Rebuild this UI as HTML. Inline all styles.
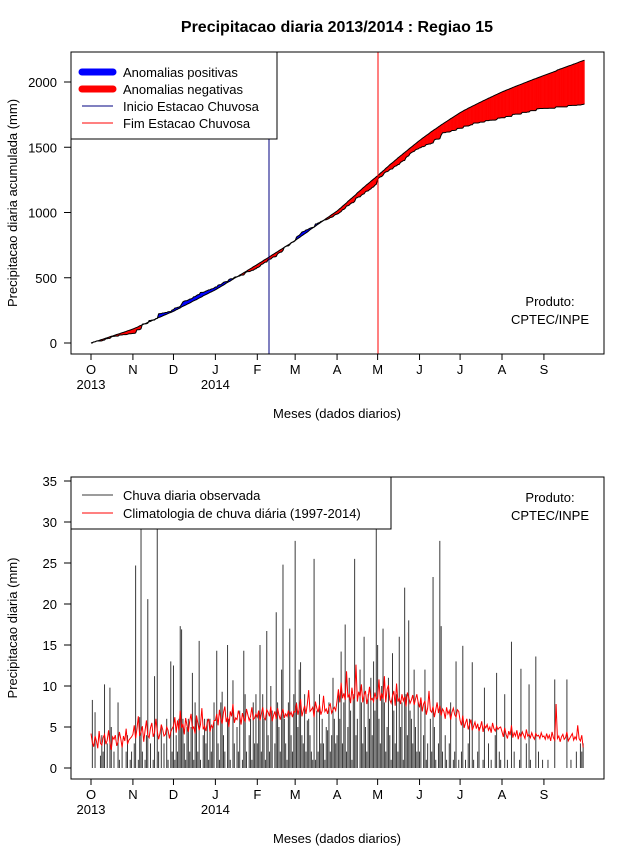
<!DOCTYPE html>
<html><head><meta charset="utf-8"><style>
body{margin:0;background:#fff}
svg{display:block;font-family:"Liberation Sans",sans-serif}
</style></head><body>
<svg id="c" width="640" height="850" viewBox="0 0 640 850"></svg>
<script>
const months=["O","N","D","J","F","M","A","M","J","J","A","S"];
const monthStartDay=[0,31,61,92,123,151,182,212,243,273,304,335];
const topTicks=[0,500,1000,1500,2000];
const botTicks=[0,5,10,15,20,25,30,35];
const obsDaily=[
0,8.3,0,6.8,0,0,0,1.5,4,2,10.2,0,3,0,9.8,5,0,2,0,0,8,1,0,3,0,0,2,4,0,1,2,
0,3,24.7,0,1,6.2,36,2,0,1,4,20.6,0,3,0,1,11.2,0,36,2,0,5,0,3,0,6,1,0,13,2,
12.5,1,4,2,6,17.3,16.9,6,3,1,5,6,2,5,11.6,1,8,6,2,15.5,1,0,4,6,3,6,1,6,2,5,8,
0,14.3,3,1,8,9.3,4,2,0,15,6,1,0,10.7,3,0,5,2,7,0,1,14.3,9,2,0,4,6,1,8,3,9,
3,7,15,2,9,6,1,16.7,4,2,10,7,0,3,19,8,5,2,12,24.8,6,3,1,8,17,4,2,9,
27.7,8,5,12,12.9,4,3,9,2,5.8,6,4,2,1,25.5,1,7,2,9,3,6,3,1,5,4.6,8,2,4,11,6,3,
4,9,6,14.2,3,8,17.5,2,5,11,7,1,9,25.5,4,6,0,12,8,3,16,5,2,9,6,11,4,13,7,36,
15,6,3,10,17,8,2,5,11,4,1,14,7,3,9,2,16,5,8,1,22,9,4,18,7,6,3,12,5,2,8,
2,8,0,4,12,1,3,0,6,2,23.3,5,1,0,3,27.7,17.3,2,0,4,1,0,3,8,0,1,2,13,0,1,
0,2,14.9,0,1,0,3,6,0,12.9,1,0,0,2,5,0,0,1,9.8,0,0,3,0,1,0,0,4,11.6,0,2,1,
0,0,9,0,1,0,0,15.4,0,2,0,0,0,1,12.1,0,0,0,3,0,10.2,1,0,0,0,13.6,0,2,0,0,1,
0,0,0,1,0,0,0,0,10.8,0,0,0,0,0,0,0,0,10.8,0,0,1,0,0,0,2,0,0,3,2,3];
const climDaily=[
4.2,3.1,2.6,3.9,3.3,2.4,4.5,3.0,2.8,3.7,4.1,2.9,3.4,4.6,3.1,2.2,3.8,3.5,4.0,2.7,3.2,4.4,3.6,2.5,3.9,3.3,4.8,2.9,3.4,3.6,3.8,
4.1,5.2,3.6,4.8,6.3,3.9,4.4,5.1,3.2,4.6,5.8,4.0,3.7,4.9,5.5,3.8,4.3,6.0,4.5,3.5,4.2,5.3,4.7,3.9,4.1,5.0,4.6,3.6,4.4,4.8,
5.1,6.2,4.3,5.8,4.6,7.0,4.9,5.4,4.1,6.1,5.2,4.4,5.7,6.6,4.8,5.0,4.2,6.4,5.5,4.6,5.3,7.3,4.7,5.1,4.5,5.6,6.0,4.4,5.2,4.9,5.8,
5.8,6.6,5.2,7.1,6.0,5.4,6.8,7.5,5.6,6.2,5.0,6.9,6.3,7.8,5.5,6.1,5.9,7.0,6.4,5.3,6.7,6.0,5.7,7.2,6.5,5.8,6.3,7.4,5.9,6.1,6.6,
6.2,7.0,5.8,6.6,7.4,6.1,5.9,7.1,6.8,6.3,7.5,5.7,6.4,6.9,6.0,7.3,6.5,5.9,6.7,7.2,6.1,6.6,6.3,7.0,6.4,6.8,6.2,6.9,
6.8,7.9,6.5,7.2,8.4,6.3,7.0,7.6,6.6,7.8,9.5,6.9,7.1,7.4,6.2,8.1,7.3,6.8,7.7,6.5,7.0,8.8,6.9,7.2,6.6,7.5,7.8,6.7,7.1,7.4,7.0,
8.2,9.6,8.0,10.4,8.5,9.1,8.3,11.8,8.6,9.0,7.9,9.8,8.4,8.8,12.6,8.1,9.3,8.7,10.2,8.0,8.9,9.4,7.8,8.6,9.9,8.3,8.5,8.1,9.2,8.4,
8.6,10.8,8.2,9.1,8.4,11.2,8.0,9.6,10.1,8.3,7.9,8.8,9.4,7.6,10.3,8.1,8.5,7.8,9.0,8.2,8.7,7.5,9.2,8.6,7.9,8.3,8.9,7.7,8.4,9.0,8.0,
7.4,8.6,6.9,7.8,8.2,6.5,7.3,9.4,7.0,6.8,7.5,6.2,7.1,8.0,6.7,7.6,6.4,7.2,6.9,6.0,7.4,6.6,7.0,5.9,6.8,7.3,6.5,6.2,7.1,6.9,
5.8,5.2,6.4,4.9,5.5,6.0,4.7,5.3,5.9,4.6,5.1,5.6,4.8,5.4,4.5,5.0,5.7,4.4,5.2,4.9,5.3,4.6,5.0,4.3,5.5,4.8,4.5,5.1,4.7,4.9,5.0,
4.4,3.8,4.9,4.1,3.6,4.5,4.0,5.2,3.7,4.3,3.9,4.6,3.5,4.2,3.8,4.4,4.0,3.6,4.7,3.9,4.1,3.7,4.3,3.8,3.5,4.2,3.9,4.0,3.6,4.3,3.8,
3.9,3.5,4.2,3.6,4.0,3.3,4.4,3.7,3.4,7.8,3.6,3.9,3.2,3.8,4.1,3.5,3.7,4.4,3.3,3.6,3.9,4.2,3.4,3.8,3.5,5.2,3.6,3.3,4.0,2.5];

const NS="http://www.w3.org/2000/svg";
const svg=document.getElementById('c');
function mk(tag,attrs,parent,txt){const e=document.createElementNS(NS,tag);for(const k in attrs)e.setAttribute(k,attrs[k]);if(txt!==undefined)e.textContent=txt;(parent||svg).appendChild(e);return e;}
const X0=91,PXD=1.352;
function xDay(d){return X0+d*PXD;}
function yTop(v){return 343-v*0.1305;}
function yBot(v){return 768-v*8.2;}

let t=mk('text',{x:337,y:32,'text-anchor':'middle','font-size':16,'font-weight':'bold'},svg,'Precipitacao diaria 2013/2014 : Regiao 15');



const gTop=mk('g',{});


const cumObs=[0],cumClim=[0];
for(let i=0;i<obsDaily.length;i++){cumObs.push(cumObs[i]+obsDaily[i]);cumClim.push(cumClim[i]+climDaily[i]);}
const gFill=mk('g',{},gTop);


for(let i=0;i<cumObs.length-1;i++){
  const a=cumObs[i]-cumClim[i],b=cumObs[i+1]-cumClim[i+1];
  const col=(a+b)>=0?'#0000ff':'#ff0000';
  const p=mk('polygon',{points:`${xDay(i)},${yTop(cumObs[i])} ${xDay(i+1)},${yTop(cumObs[i+1])} ${xDay(i+1)},${yTop(cumClim[i+1])} ${xDay(i)},${yTop(cumClim[i])}`,fill:col,stroke:col,'stroke-width':0.4},gFill);
  
  
}
let lo=mk('polyline',{points:cumObs.map((v,i)=>xDay(i)+','+yTop(v)).join(' '),fill:'none',stroke:'#000','stroke-width':1},gTop);


let lc=mk('polyline',{points:cumClim.map((v,i)=>xDay(i)+','+yTop(v)).join(' '),fill:'none',stroke:'#000','stroke-width':1},gTop);


let vs=mk('line',{x1:269,x2:269,y1:52,y2:354,stroke:'#000080','stroke-width':1},gTop);


let ve=mk('line',{x1:378,x2:378,y1:52,y2:354,stroke:'#ff0000','stroke-width':1},gTop);


let bt=mk('rect',{x:71,y:52,width:533,height:302,fill:'none',stroke:'#000'},gTop);


topTicks.forEach(v=>{
  const y=yTop(v);
  mk('line',{x1:64,x2:71,y1:y,y2:y,stroke:'#000'},gTop);
  const tl=mk('text',{x:57,y:y+5,'text-anchor':'end','font-size':13},gTop,String(v));
  
  
});
let yt=mk('text',{x:0,y:0,transform:'translate(17,203) rotate(-90)','text-anchor':'middle','font-size':13},gTop,'Precipitacao diaria acumulada (mm)');


function xAxis(g,yAxis,prefix){
  mk('line',{x1:xDay(0),x2:xDay(monthStartDay[11]),y1:yAxis,y2:yAxis,stroke:'#000'},g);
  months.forEach((m,i)=>{
    const x=xDay(monthStartDay[i]);
    mk('line',{x1:x,x2:x,y1:yAxis,y2:yAxis+6,stroke:'#000'},g);
    const tl=mk('text',{x:x,y:yAxis+20,'text-anchor':'middle','font-size':13},g,m);
    
    
  });
  const y1=mk('text',{x:xDay(0),y:yAxis+35,'text-anchor':'middle','font-size':13},g,'2013');
  
  
  const y2=mk('text',{x:xDay(92),y:yAxis+35,'text-anchor':'middle','font-size':13},g,'2014');
  
  
}
xAxis(gTop,354,'top');
let xt=mk('text',{x:337,y:418,'text-anchor':'middle','font-size':13},gTop,'Meses (dados diarios)');


const lgT=mk('g',{},gTop);


mk('rect',{x:71,y:52,width:206,height:87,fill:'#fff',stroke:'#000'},lgT);
[['#0000ff',7,'Anomalias positivas',72],['#ff0000',7,'Anomalias negativas',89],['#000080',1,'Inicio Estacao Chuvosa',106],['#ff0000',1,'Fim Estacao Chuvosa',123]].forEach(e=>{
  const g=mk('g',{},lgT);
  
  
  mk('line',{x1:82,x2:113,y1:e[3],y2:e[3],stroke:e[0],'stroke-width':e[1],'stroke-linecap':e[1]>1?'round':'butt'},g);
  mk('text',{x:123,y:e[3]+5,'font-size':13},g,e[2]);
});
let p1=mk('text',{x:550,y:306,'text-anchor':'middle','font-size':13},gTop,'Produto:');


let p2=mk('text',{x:550,y:324,'text-anchor':'middle','font-size':13},gTop,'CPTEC/INPE');



const gBot=mk('g',{});


const clipD=mk('defs',{},gBot);
const cp=mk('clipPath',{id:'cb'},clipD);
mk('rect',{x:71,y:477,width:533,height:302},cp);
const gBars=mk('g',{'clip-path':'url(#cb)'},gBot);


obsDaily.forEach((v,i)=>{
  const b=mk('line',{x1:xDay(i),x2:xDay(i),y1:yBot(0),y2:yBot(v),stroke:'#3a3a3a','stroke-width':1},gBars);
  
  
});
let cl=mk('polyline',{points:climDaily.map((v,i)=>xDay(i)+','+yBot(v)).join(' '),fill:'none',stroke:'#ff0000','stroke-width':1},gBot);


let bb=mk('rect',{x:71,y:477,width:533,height:302,fill:'none',stroke:'#000'},gBot);


botTicks.forEach(v=>{
  const y=yBot(v);
  mk('line',{x1:64,x2:71,y1:y,y2:y,stroke:'#000'},gBot);
  const tl=mk('text',{x:57,y:y+5,'text-anchor':'end','font-size':13},gBot,String(v));
  
  
});
let yb=mk('text',{x:0,y:0,transform:'translate(17,628) rotate(-90)','text-anchor':'middle','font-size':13},gBot,'Precipitacao diaria (mm)');


xAxis(gBot,779,'bottom');
let xb=mk('text',{x:337,y:843,'text-anchor':'middle','font-size':13},gBot,'Meses (dados diarios)');


const lgB=mk('g',{},gBot);


mk('rect',{x:71,y:477,width:320,height:52,fill:'#fff',stroke:'#000'},lgB);
[['#3a3a3a','Chuva diaria observada',495],['#ff0000','Climatologia de chuva diária (1997-2014)',513]].forEach(e=>{
  const g=mk('g',{},lgB);
  
  
  mk('line',{x1:82,x2:113,y1:e[2],y2:e[2],stroke:e[0],'stroke-width':1},g);
  mk('text',{x:123,y:e[2]+5,'font-size':13},g,e[1]);
});
let p3=mk('text',{x:550,y:502,'text-anchor':'middle','font-size':13},gBot,'Produto:');


let p4=mk('text',{x:550,y:520,'text-anchor':'middle','font-size':13},gBot,'CPTEC/INPE');


</script>
</body></html>
